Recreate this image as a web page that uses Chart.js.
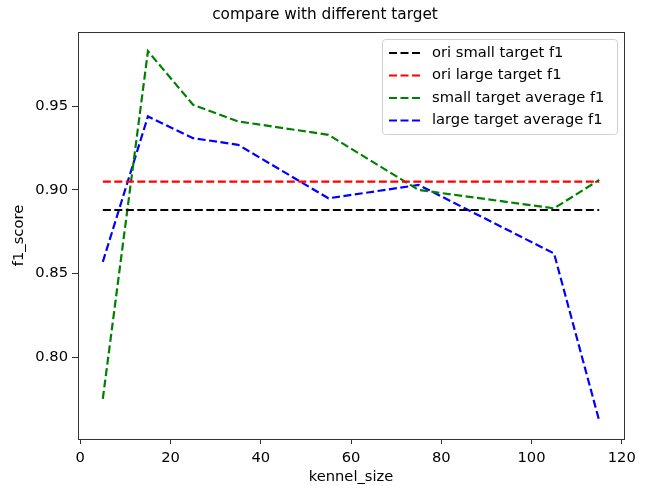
<!DOCTYPE html>
<html>
<head>
<meta charset="utf-8">
<script src="https://cdn.jsdelivr.net/npm/chart.js@4"></script>
<style>
  html, body { margin: 0; padding: 0; background: #fff; }
  #wrap { width: 650px; height: 486px; }
</style>
</head>
<body>
<div id="wrap"><canvas id="chart" width="650" height="486"></canvas></div>
<script>
const kernelSizes = [5, 15, 25, 35, 55, 75, 105, 115];
const oriSmall = [0.888, 0.888, 0.888, 0.888, 0.888, 0.888, 0.888, 0.888];
const oriLarge = [0.905, 0.905, 0.905, 0.905, 0.905, 0.905, 0.905, 0.905];
const smallAvg = [0.775, 0.983, 0.951, 0.941, 0.933, 0.900, 0.889, 0.906];
const largeAvg = [0.857, 0.944, 0.931, 0.927, 0.895, 0.903, 0.862, 0.762];
const xTicks = [0, 20, 40, 60, 80, 100, 120];
const yTicks = [0.80, 0.85, 0.90, 0.95];

const titleText = "compare with different target";
const labels = ["ori small target f1", "ori large target f1", "small target average f1", "large target average f1"];
const colors = ["#000000", "#ff0000", "#008000", "#0000ff"];
const series = [oriSmall, oriLarge, smallAvg, largeAvg];

const font = "'DejaVu Sans', sans-serif";

const toPoints = (ys) => kernelSizes.map((x, i) => ({ x: x, y: ys[i] }));

const datasets = series.map((ys, i) => ({
  label: labels[i],
  data: toPoints(ys),
  borderColor: colors[i],
  backgroundColor: colors[i],
  borderWidth: 2.2,
  borderDash: [8, 3.5],
  pointRadius: 0,
  tension: 0,
  fill: false,
}));

// frame round the plot area, title, and legend in upper right
const framePlugin = {
  id: "frame",
  afterDraw(chart) {
    const { ctx, chartArea: a } = chart;
    ctx.save();
    ctx.strokeStyle = "#333";
    ctx.lineWidth = 1;
    ctx.strokeRect(a.left + 0.5, a.top + 0.5, a.right - a.left, a.bottom - a.top);

    ctx.fillStyle = "#000";
    ctx.font = "15.3px " + font;
    ctx.textAlign = "center";
    ctx.textBaseline = "middle";
    ctx.fillText(titleText, chart.width / 2, 15);

    // legend
    const bx = a.right - 242, by = a.top + 7, bw = 235, bh = 95;
    ctx.fillStyle = "rgba(255,255,255,0.8)";
    ctx.strokeStyle = "#d0d0d0";
    ctx.beginPath();
    ctx.roundRect(bx + 0.5, by + 0.5, bw, bh, 3);
    ctx.fill();
    ctx.stroke();
    ctx.font = "14.7px " + font;
    ctx.textAlign = "left";
    labels.forEach((lab, i) => {
      const y = by + 14 + i * 22.5;
      ctx.strokeStyle = colors[i];
      ctx.lineWidth = 2.2;
      ctx.setLineDash([8, 3.5]);
      ctx.beginPath();
      ctx.moveTo(bx + 7, y);
      ctx.lineTo(bx + 38, y);
      ctx.stroke();
      ctx.setLineDash([]);
      ctx.fillStyle = "#000";
      ctx.fillText(lab, bx + 50, y);
    });
    ctx.restore();
  },
};

new Chart(document.getElementById("chart"), {
  type: "line",
  data: { datasets },
  options: {
    responsive: false,
    animation: false,
    layout: { padding: { left: 0, right: 26, top: 32, bottom: 0 } },
    plugins: {
      legend: { display: false },
      tooltip: { enabled: false },
      title: { display: false },
    },
    scales: {
      x: {
        type: "linear",
        min: -0.5,
        max: 120.5,
        afterBuildTicks: (s) => { s.ticks = xTicks.map((v) => ({ value: v })); },
        afterFit: (s) => { s.height = 47; },
        grid: { drawOnChartArea: false, drawTicks: true, tickLength: 5, color: "#333" },
        border: { color: "#333" },
        ticks: { color: "#000", font: { family: font, size: 14.7 }, padding: 5, maxRotation: 0 },
        title: { display: true, text: "kennel_size", color: "#000", font: { family: font, size: 14.7 }, padding: { top: 0, bottom: 0 } },
      },
      y: {
        min: 0.751,
        max: 0.9945,
        afterBuildTicks: (s) => { s.ticks = yTicks.map((v) => ({ value: v })); },
        afterFit: (s) => { s.width = 78; },
        grid: { drawOnChartArea: false, drawTicks: true, tickLength: 6, color: "#333" },
        border: { color: "#333" },
        ticks: { color: "#000", font: { family: font, size: 14.7 }, padding: 4, callback: (v) => v.toFixed(2) },
        title: { display: true, text: "f1_score", color: "#000", font: { family: font, size: 14.7 }, padding: { top: 10, bottom: 0 } },
      },
    },
  },
  plugins: [framePlugin],
});
</script>
</body>
</html>
